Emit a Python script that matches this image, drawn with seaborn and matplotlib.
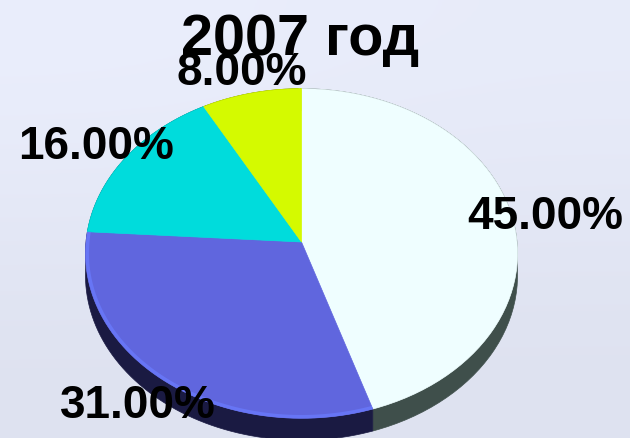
import numpy as np
import matplotlib
matplotlib.use("Agg")
import matplotlib.pyplot as plt
from matplotlib.patches import Polygon
from matplotlib.transforms import Affine2D
import seaborn as sns

title = "2007 год"
shares = [45, 31, 16, 8]
top_colors = ["#effeff", "#6066de", "#00dcdc", "#d4fa00"]
side_colors = ["#3f4f4b", "#1a1a42", "#004f50", "#4c5a00"]
label_spots = [(467, 229), (60, 418), (18, 159), (176, 85)]

sns.set_theme(style="white")
plt.rcParams["font.family"] = ["Liberation Sans", "DejaVu Sans"]

fig = plt.figure(figsize=(6.3, 4.39), dpi=100)
ax = fig.add_axes([0, 0, 1, 1])

# pie gives the wedges, then they get tilted by hand so it looks 3d
wedges, _ = ax.pie(shares, startangle=90, counterclock=False, colors=sns.color_palette(top_colors))


def tilt(pts):
    w = 1 + 0.0695 * pts[:, 1]
    return np.column_stack([301.5 + 215.5 * pts[:, 0] / w, 243 - 164 * pts[:, 1] / w])


def outer_arc(pts):
    rim = pts[np.hypot(pts[:, 0], pts[:, 1]) > 0.9]
    return rim[np.argsort((np.arctan2(rim[:, 0], rim[:, 1]) + 1e-6) % (2 * np.pi))]


faces = []
for wedge in wedges:
    to_big = wedge.get_patch_transform() + Affine2D().scale(500)
    pts = to_big.transform_path(wedge.get_path()).to_polygons()[0] / 500
    faces.append(pts)
    wedge.remove()

ax.set_aspect("auto")
ax.set_xlim(0, 630)
ax.set_ylim(439, 0)
ax.axis("off")

background = np.array([[0.93, 0.92], [0.88, 0.88]])
back_rgb = np.dstack([background - 0.01, background + 0.005, background + 0.06]).clip(0, 1)
ax.imshow(back_rgb, extent=(0, 630, 439, 0), aspect="auto", interpolation="bicubic", zorder=0)

for pts, side in zip(faces, side_colors):
    edge = tilt(outer_arc(pts))
    lower = edge + [0, 22]
    ax.add_patch(Polygon(np.vstack([edge, lower[::-1]]), facecolor=side, edgecolor=side, lw=0.5, zorder=1))

for pts, color in zip(faces, top_colors):
    ax.add_patch(Polygon(tilt(pts), facecolor=color, edgecolor=color, lw=0.5, zorder=2))

# lighter band along the bottom edge of the blue slice
arc = tilt(outer_arc(faces[1]) * 0.992)
ax.plot(arc[:, 0], arc[:, 1], color="#6a7cff", lw=2.5, alpha=0.7, solid_capstyle="butt", zorder=2.5)

for share, (x, y) in zip(shares, label_spots):
    ax.text(x, y, f"{share:.2f}%", fontsize=33, fontweight="bold", color="black", zorder=4)

ax.text(181, 55, title, fontsize=41.5, fontweight="bold", color="black", zorder=3)

fig.savefig("out.png", dpi=100)
